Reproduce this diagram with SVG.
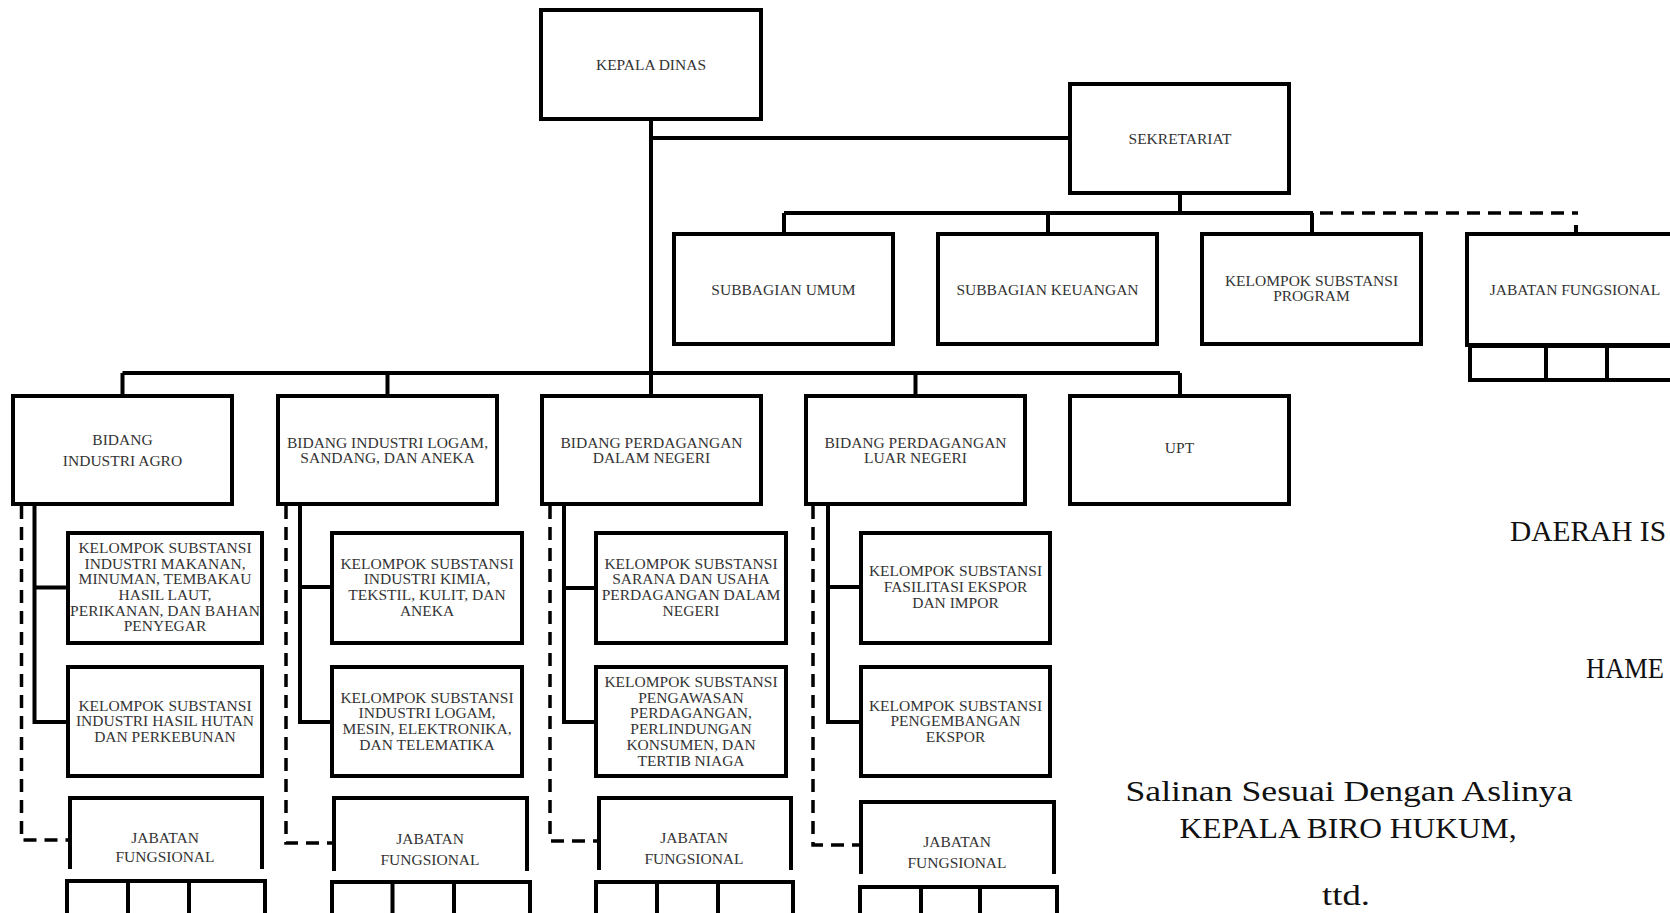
<svg xmlns="http://www.w3.org/2000/svg" width="1670" height="913" viewBox="0 0 1670 913">
<style>
.box{fill:#fff;stroke:#000;stroke-width:4}
.open{fill:none;stroke:#000;stroke-width:4}
.ln{fill:none;stroke:#000;stroke-width:4}
.dash{fill:none;stroke:#000;stroke-width:3.5;stroke-dasharray:13 8}
.t{font-family:"Liberation Serif","Times New Roman",serif;font-size:15.5px;fill:#333;text-anchor:middle}
.big{font-family:"Liberation Serif","Times New Roman",serif;font-size:30px;fill:#111;text-anchor:middle}
</style>
<rect width="1670" height="913" fill="#fff"/>
<g id="connectors">
<path class="ln" d="M651,119 V373 M651,138 H1070 M122.5,373 H1180 M122.5,373 V396 M387.5,373 V396 M651,373 V396 M915.5,373 V396 M1180,373 V396"/>
<path class="ln" d="M1180,193 V213 M784,213 H1313 M784,213 V234 M1048,213 V234 M1312,213 V234"/>
<path class="dash" d="M1320,213 H1578"/>
<path class="ln" d="M1576,225 V235"/>
<path class="ln" d="M34.5,504 V722 H68 M34.5,587.5 H68"/>
<path class="ln" d="M300,504 V722 H332 M300,587 H332"/>
<path class="ln" d="M564,504 V722 H596 M564,588 H596"/>
<path class="ln" d="M828,504 V722 H861 M828,587 H861"/>
<path class="dash" d="M21.5,506 V840 H70"/>
<path class="dash" d="M286,506 V843 H334"/>
<path class="dash" d="M550,506 V841 H599"/>
<path class="dash" d="M813,506 V845 H861"/>
</g>
<g id="kepala-dinas"><rect class="box" x="541" y="10" width="220" height="109"/><text class="t" x="651" y="70">KEPALA DINAS</text></g>
<g id="sekretariat"><rect class="box" x="1070" y="84" width="219" height="109"/><text class="t" x="1180" y="144">SEKRETARIAT</text></g>
<g id="subbagian-umum"><rect class="box" x="674" y="234" width="219" height="110"/><text class="t" x="783.5" y="295">SUBBAGIAN UMUM</text></g>
<g id="subbagian-keuangan"><rect class="box" x="938" y="234" width="219" height="110"/><text class="t" x="1047.5" y="295">SUBBAGIAN KEUANGAN</text></g>
<g id="kelompok-program"><rect class="box" x="1202" y="234" width="219" height="110"/><text class="t" x="1311.5" y="286">KELOMPOK SUBSTANSI</text><text class="t" x="1311.5" y="301">PROGRAM</text></g>
<g id="jabatan-fungsional-sekretariat"><rect class="box" x="1467" y="234" width="230" height="111"/><rect class="box" x="1470" y="346" width="230" height="34"/><path class="ln" d="M1546,346 V380 M1607,346 V380"/><text class="t" x="1575" y="295">JABATAN FUNGSIONAL</text></g>
<g id="bidang-agro"><rect class="box" x="13" y="396" width="219" height="108"/><text class="t" x="122.5" y="445">BIDANG</text><text class="t" x="122.5" y="466">INDUSTRI AGRO</text></g>
<g id="bidang-logam"><rect class="box" x="278" y="396" width="219" height="108"/><text class="t" x="387.5" y="448">BIDANG INDUSTRI LOGAM,</text><text class="t" x="387.5" y="463">SANDANG, DAN ANEKA</text></g>
<g id="bidang-pdn"><rect class="box" x="542" y="396" width="219" height="108"/><text class="t" x="651.5" y="448">BIDANG PERDAGANGAN</text><text class="t" x="651.5" y="463">DALAM NEGERI</text></g>
<g id="bidang-pln"><rect class="box" x="806" y="396" width="219" height="108"/><text class="t" x="915.5" y="448">BIDANG PERDAGANGAN</text><text class="t" x="915.5" y="463">LUAR NEGERI</text></g>
<g id="upt"><rect class="box" x="1070" y="396" width="219" height="108"/><text class="t" x="1179.5" y="453">UPT</text></g>
<g id="ks-makanan"><rect class="box" x="68" y="533" width="194" height="110"/><text class="t" x="165" y="553">KELOMPOK SUBSTANSI</text><text class="t" x="165" y="569">INDUSTRI MAKANAN,</text><text class="t" x="165" y="584">MINUMAN, TEMBAKAU</text><text class="t" x="165" y="600">HASIL LAUT,</text><text class="t" x="165" y="616">PERIKANAN, DAN BAHAN</text><text class="t" x="165" y="631">PENYEGAR</text></g>
<g id="ks-hutan"><rect class="box" x="68" y="667" width="194" height="109"/><text class="t" x="165" y="711">KELOMPOK SUBSTANSI</text><text class="t" x="165" y="726">INDUSTRI HASIL HUTAN</text><text class="t" x="165" y="742">DAN PERKEBUNAN</text></g>
<g id="ks-kimia"><rect class="box" x="332" y="533" width="190" height="110"/><text class="t" x="427" y="569">KELOMPOK SUBSTANSI</text><text class="t" x="427" y="584">INDUSTRI KIMIA,</text><text class="t" x="427" y="600">TEKSTIL, KULIT, DAN</text><text class="t" x="427" y="616">ANEKA</text></g>
<g id="ks-logam"><rect class="box" x="332" y="667" width="190" height="109"/><text class="t" x="427" y="703">KELOMPOK SUBSTANSI</text><text class="t" x="427" y="718">INDUSTRI LOGAM,</text><text class="t" x="427" y="734">MESIN, ELEKTRONIKA,</text><text class="t" x="427" y="750">DAN TELEMATIKA</text></g>
<g id="ks-sarana"><rect class="box" x="596" y="533" width="190" height="110"/><text class="t" x="691" y="569">KELOMPOK SUBSTANSI</text><text class="t" x="691" y="584">SARANA DAN USAHA</text><text class="t" x="691" y="600">PERDAGANGAN DALAM</text><text class="t" x="691" y="616">NEGERI</text></g>
<g id="ks-pengawasan"><rect class="box" x="596" y="667" width="190" height="109"/><text class="t" x="691" y="687">KELOMPOK SUBSTANSI</text><text class="t" x="691" y="703">PENGAWASAN</text><text class="t" x="691" y="718">PERDAGANGAN,</text><text class="t" x="691" y="734">PERLINDUNGAN</text><text class="t" x="691" y="750">KONSUMEN, DAN</text><text class="t" x="691" y="766">TERTIB NIAGA</text></g>
<g id="ks-fasilitasi"><rect class="box" x="861" y="533" width="189" height="110"/><text class="t" x="955.5" y="576">KELOMPOK SUBSTANSI</text><text class="t" x="955.5" y="592">FASILITASI EKSPOR</text><text class="t" x="955.5" y="608">DAN IMPOR</text></g>
<g id="ks-pengembangan"><rect class="box" x="861" y="667" width="189" height="109"/><text class="t" x="955.5" y="711">KELOMPOK SUBSTANSI</text><text class="t" x="955.5" y="726">PENGEMBANGAN</text><text class="t" x="955.5" y="742">EKSPOR</text></g>
<g id="jf-agro"><path class="open" d="M70,869 V798 H262 V869"/><rect class="box" x="67" y="881" width="198" height="40"/><path class="ln" d="M128,881 V913 M189,881 V913"/><text class="t" x="165" y="843">JABATAN</text><text class="t" x="165" y="862">FUNGSIONAL</text></g>
<g id="jf-logam"><path class="open" d="M334,871 V798 H527 V871"/><rect class="box" x="332" y="882" width="198" height="40"/><path class="ln" d="M392.5,882 V913 M454,882 V913"/><text class="t" x="430" y="844">JABATAN</text><text class="t" x="430" y="865">FUNGSIONAL</text></g>
<g id="jf-pdn"><path class="open" d="M599,870 V798 H791 V870"/><rect class="box" x="596" y="882" width="197" height="40"/><path class="ln" d="M657,882 V913 M718,882 V913"/><text class="t" x="694" y="843">JABATAN</text><text class="t" x="694" y="864">FUNGSIONAL</text></g>
<g id="jf-pln"><path class="open" d="M861,874 V802 H1054 V874"/><rect class="box" x="860" y="887" width="197" height="40"/><path class="ln" d="M921,887 V913 M980,887 V913"/><text class="t" x="957" y="847">JABATAN</text><text class="t" x="957" y="868">FUNGSIONAL</text></g>
<g id="signature">
<text class="big" x="1510" y="541" style="text-anchor:start" textLength="156" lengthAdjust="spacingAndGlyphs">DAERAH IS</text>
<text class="big" x="1586" y="678" style="text-anchor:start" textLength="78" lengthAdjust="spacingAndGlyphs">HAME</text>
<text class="big" x="1349" y="801" textLength="447" lengthAdjust="spacingAndGlyphs">Salinan Sesuai Dengan Aslinya</text>
<text class="big" x="1348" y="838" textLength="337" lengthAdjust="spacingAndGlyphs">KEPALA BIRO HUKUM,</text>
<text class="big" x="1346" y="905" textLength="48" lengthAdjust="spacingAndGlyphs">ttd.</text>
</g>
</svg>
